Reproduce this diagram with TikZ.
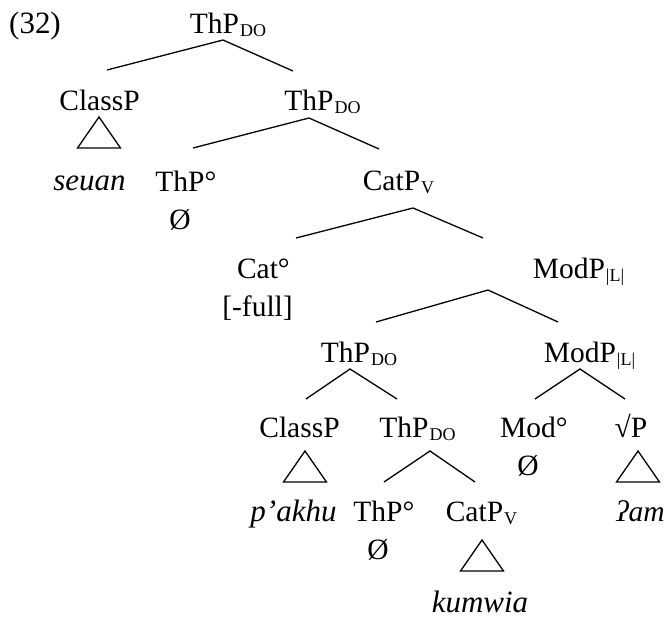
\documentclass[tikz,border=0pt]{standalone}
\usepackage{fontspec}
\setmainfont{Liberation Serif}
\newcommand{\lsub}[1]{\kern1pt\raisebox{-3pt}{\fontsize{18}{18}\selectfont #1}}
\newcommand{\hdeg}{\rlap{°}}
\tikzset{
	tnode/.style={anchor=base, inner sep=0pt, font=\fontsize{29.5}{38}\selectfont},
	leaf/.style={tnode, font=\fontsize{31}{38}\selectfont\itshape},
	branch/.style={line width=1.3pt},
}
\begin{document}
\begin{tikzpicture}[x=1pt,y=-1pt]
		\useasboundingbox (0,0) rectangle (665,619);
		\def\roof#1#2#3{\draw[branch] ([shift={(#2,#3)}]#1.base) -- ++(-21.5,31) -- ++(43,0) -- cycle;}
		
		\node[tnode, font=\fontsize{31}{38}\selectfont] (ex) at (35,33) {(32)};
		\node[tnode] (r0) at (228,33) {ThP\lsub{DO}};
		
		\node[tnode] (c1) at (99.5,110) {ClassP};
		\node[tnode] (t1) at (322.5,110) {ThP\lsub{DO}};
		
		% two-line nodes sit on the base of their last line
		\node[leaf] (seuan) at (89.5,190) {seuan};
		\node[tnode, align=center] (th1) at (180,229) {ThP\hdeg\\Ø};
		\node[tnode] (cv1) at (398.5,190) {CatP\lsub{V}};
		
		\node[tnode, align=center] (cat) at (257.5,316) {Cat\hdeg\\{[-full]}};
		\node[tnode] (m1) at (578.5,278) {ModP\lsub{|L|}};
		
		\node[tnode] (t3) at (359,362) {ThP\lsub{DO}};
		\node[tnode] (m2) at (589.5,362) {ModP\lsub{|L|}};
		
		\node[tnode] (c2) at (299.5,437) {ClassP};
		\node[tnode] (t4) at (417.5,437) {ThP\lsub{DO}};
		\node[tnode, align=center] (mod) at (528,475) {Mod\hdeg\\Ø};
		\node[tnode] (rt) at (631,437) {√P};
		
		\node[leaf] (pakhu) at (293.5,521) {p’akhu};
		\node[tnode, align=center] (th2) at (378,559) {ThP\hdeg\\Ø};
		\node[tnode] (cv2) at (481.5,521) {CatP\lsub{V}};
		\node[leaf, font=\fontsize{29.5}{38}\selectfont\itshape] (am) at (640.5,521) {ʔam};
		
		\node[leaf] (kumwia) at (480,612) {kumwia};
		
		% branches
		\draw[branch] ([shift={(7.5,-40)}]c1.base) -- ([shift={(-5,7)}]r0.base) -- ([shift={(-29.5,-39)}]t1.base);
		\draw[branch] ([shift={(13,-81)}]th1.base) -- ([shift={(-13.5,8)}]t1.base) -- ([shift={(-19.5,-41)}]cv1.base);
		\draw[branch] ([shift={(38.5,-78)}]cat.base) -- ([shift={(14.5,18)}]cv1.base) -- ([shift={(-95.5,-40)}]m1.base);
		\draw[branch] ([shift={(17,-40)}]t3.base) -- ([shift={(-90.5,12)}]m1.base) -- ([shift={(-31.5,-40)}]m2.base);
		\draw[branch] ([shift={(6.5,-38)}]c2.base) -- ([shift={(-9,7)}]t3.base) -- ([shift={(-20.5,-38)}]t4.base);
		\draw[branch] ([shift={(7,-76)}]mod.base) -- ([shift={(-9.5,7)}]m2.base) -- ([shift={(-6,-38)}]rt.base);
		\draw[branch] ([shift={(6,-77)}]th2.base) -- ([shift={(12.5,14)}]t4.base) -- ([shift={(-6.5,-39)}]cv2.base);
		
		% triangles
		\roof{c1}{-0.5}{7}
		\roof{c2}{5.5}{14}
		\roof{rt}{7}{14}
		\roof{cv2}{0.5}{19}
		\end{tikzpicture}
\end{document}
